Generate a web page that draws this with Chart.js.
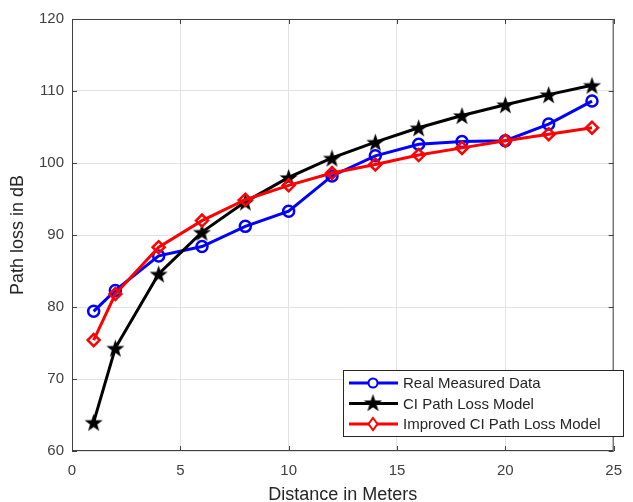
<!DOCTYPE html>
<html>
<head>
<meta charset="utf-8">
<script src="https://cdn.jsdelivr.net/npm/chart.js@4.4.1/dist/chart.umd.min.js"></script>
<style>
  html, body { margin: 0; padding: 0; background: #fff; }
  #wrap { width: 633px; height: 502px; }
</style>
</head>
<body>
<div id="wrap"><canvas id="plChart" width="633" height="502"></canvas></div>
<script>
const distances = [1, 2, 4, 6, 8, 10, 12, 14, 16, 18, 20, 22, 24];
const measured = [79.4, 82.3, 87.1, 88.4, 91.2, 93.3, 98.2, 101.0, 102.6, 103.0, 103.1, 105.4, 108.6];
const ciModel = [64.0, 74.3, 84.6, 90.4, 94.6, 98.0, 100.7, 102.9, 104.9, 106.6, 108.1, 109.5, 110.8];
const improvedCi = [75.4, 81.8, 88.3, 92.0, 94.9, 96.9, 98.6, 99.8, 101.1, 102.1, 103.1, 104.0, 104.9];
const seriesNames = ['Real Measured Data', 'CI Path Loss Model', 'Improved CI Path Loss Model'];
const xTicks = [0, 5, 10, 15, 20, 25];
const yTicks = [60, 70, 80, 90, 100, 110, 120];

const FONT = '"Liberation Sans", Arial, Helvetica, sans-serif';
const axisColor = '#404040';

// filled five point star for the CI markers
function makeStar(r) {
  const c = document.createElement('canvas');
  const s = Math.ceil(r * 2 + 2);
  c.width = s; c.height = s;
  const g = c.getContext('2d');
  g.beginPath();
  for (let i = 0; i < 10; i++) {
    const rad = i % 2 === 0 ? r : r * 0.4;
    const a = -Math.PI / 2 + i * Math.PI / 5;
    const px = s / 2 + rad * Math.cos(a), py = s / 2 + 1 + rad * Math.sin(a);
    if (i === 0) g.moveTo(px, py); else g.lineTo(px, py);
  }
  g.closePath();
  g.fillStyle = '#000';
  g.fill();
  return c;
}
const starImg = makeStar(9.5);

function toPoints(ys) {
  return distances.map((d, i) => ({ x: d, y: ys[i] }));
}

// box, inner tick marks and the legend inside the axes like MATLAB
const boxPlugin = {
  id: 'boxPlugin',
  afterDraw(chart) {
    const ctx = chart.ctx;
    const a = chart.chartArea;
    const xs = chart.scales.x, ys = chart.scales.y;
    ctx.save();
    ctx.strokeStyle = axisColor;
    ctx.lineWidth = 1;
    ctx.strokeRect(a.left + 0.5, a.top + 0.5, a.right - a.left - 1, a.bottom - a.top - 1);
    ctx.beginPath();
    xTicks.forEach(v => {
      const px = Math.round(xs.getPixelForValue(v)) + 0.5;
      ctx.moveTo(px, a.bottom); ctx.lineTo(px, a.bottom - 5);
      ctx.moveTo(px, a.top); ctx.lineTo(px, a.top + 5);
    });
    yTicks.forEach(v => {
      const py = Math.round(ys.getPixelForValue(v)) + 0.5;
      ctx.moveTo(a.left, py); ctx.lineTo(a.left + 5, py);
      ctx.moveTo(a.right, py); ctx.lineTo(a.right - 5, py);
    });
    ctx.stroke();

    // legend
    const lx = 343, ly = 370, lw = 280, lh = 66;
    ctx.fillStyle = '#fff';
    ctx.fillRect(lx, ly, lw, lh);
    ctx.strokeStyle = '#262626';
    ctx.strokeRect(lx + 0.5, ly + 0.5, lw, lh);
    ctx.font = '15px ' + FONT;
    ctx.textBaseline = 'middle';
    chart.data.datasets.forEach((ds, i) => {
      const cy = ly + 13 + i * 20.5;
      ctx.strokeStyle = ds.borderColor;
      ctx.lineWidth = 3;
      ctx.beginPath();
      ctx.moveTo(lx + 6, cy); ctx.lineTo(lx + 55, cy);
      ctx.stroke();
      const mx = lx + 30;
      if (ds.pointStyle === 'circle') {
        ctx.lineWidth = 2;
        ctx.fillStyle = '#fff';
        ctx.beginPath(); ctx.arc(mx, cy, 4.5, 0, Math.PI * 2); ctx.fill(); ctx.stroke();
      } else if (ds.pointStyle === 'rectRot') {
        ctx.lineWidth = 2;
        ctx.fillStyle = '#fff';
        ctx.beginPath();
        ctx.moveTo(mx, cy - 6); ctx.lineTo(mx + 4.5, cy); ctx.lineTo(mx, cy + 6); ctx.lineTo(mx - 4.5, cy);
        ctx.closePath(); ctx.fill(); ctx.stroke();
      } else {
        ctx.drawImage(starImg, mx - starImg.width / 2, cy - starImg.height / 2 - 1);
      }
      ctx.fillStyle = '#262626';
      ctx.fillText(seriesNames[i], lx + 60, cy + 1);
    });
    ctx.restore();
  }
};

new Chart(document.getElementById('plChart'), {
  type: 'scatter',
  data: {
    datasets: [
      {
        label: seriesNames[0], data: toPoints(measured), showLine: true,
        borderColor: '#0000ff', borderWidth: 3, pointStyle: 'circle',
        pointRadius: 5.5, pointBorderWidth: 2.5, pointBackgroundColor: 'rgba(255,255,255,0)',
        pointBorderColor: '#0000ff', order: 3
      },
      {
        label: seriesNames[1], data: toPoints(ciModel), showLine: true,
        borderColor: '#000000', borderWidth: 3, pointStyle: starImg,
        pointRadius: 9, pointBorderWidth: 0, order: 2
      },
      {
        label: seriesNames[2], data: toPoints(improvedCi), showLine: true,
        borderColor: '#ff0000', borderWidth: 3, pointStyle: 'rectRot',
        pointRadius: 6, pointBorderWidth: 2.5, pointBackgroundColor: 'rgba(255,255,255,0)',
        pointBorderColor: '#ff0000', order: 1
      }
    ]
  },
  options: {
    responsive: false,
    animation: false,
    layout: { padding: { left: 0, right: 9, top: 19, bottom: 0 } },
    plugins: { legend: { display: false }, tooltip: { enabled: false } },
    scales: {
      x: {
        type: 'linear', min: 0, max: 25,
        afterBuildTicks: s => { s.ticks = xTicks.map(v => ({ value: v })); },
        afterFit: s => { s.height = 51; },
        grid: { color: '#e3e3e3', lineWidth: 1, drawTicks: false },
        border: { display: false },
        ticks: { color: axisColor, font: { family: FONT, size: 15 }, padding: 11 },
        title: { display: true, text: 'Distance in Meters', color: '#262626', font: { family: FONT, size: 18 }, padding: { top: 0, bottom: -4 } }
      },
      y: {
        type: 'linear', min: 60, max: 120,
        afterBuildTicks: s => { s.ticks = yTicks.map(v => ({ value: v })); },
        afterFit: s => { s.width = 72; },
        grid: { color: '#e3e3e3', lineWidth: 1, drawTicks: false },
        border: { display: false },
        ticks: { color: axisColor, font: { family: FONT, size: 15 }, padding: 8 },
        title: { display: true, text: 'Path loss in dB', color: '#262626', font: { family: FONT, size: 18 }, padding: { top: 7, bottom: 0 } }
      }
    }
  },
  plugins: [boxPlugin]
});
</script>
</body>
</html>
